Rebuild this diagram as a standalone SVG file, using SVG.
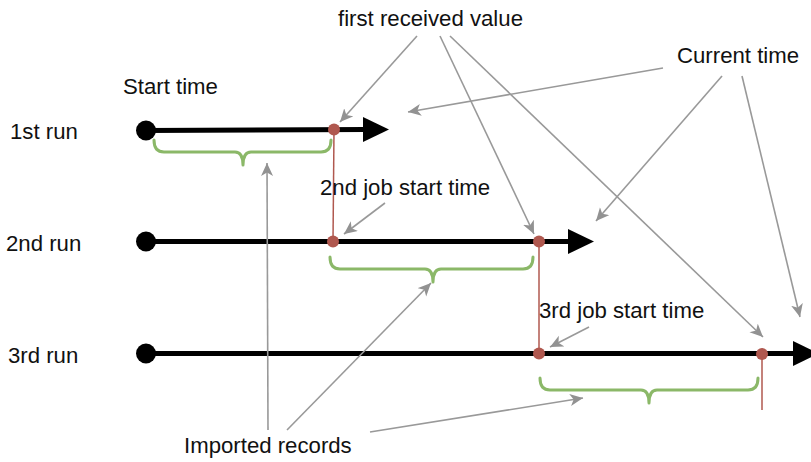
<svg xmlns="http://www.w3.org/2000/svg" width="811" height="462" viewBox="0 0 811 462">
  <style>
    text { font-family: "Liberation Sans", Arial, Helvetica, sans-serif; font-size: 22.2px; fill: #111; }
    .axis { stroke: #000; stroke-width: 5; fill: none; }
    .head { fill: #000; }
    .start { fill: #000; }
    .mark { fill: #b0584f; }
    .tick { stroke: #b0584f; stroke-width: 1.5; fill: none; }
    .brace { stroke: #8bb868; stroke-width: 3; fill: none; stroke-linecap: round; stroke-linejoin: round; }
    .ptr { stroke: #999; stroke-width: 1.6; fill: none; marker-end: url(#tip); }
  </style>
  <defs>
    <marker id="tip" markerUnits="userSpaceOnUse" markerWidth="16" markerHeight="14" refX="13" refY="6" orient="auto">
      <path d="M0,0 L13,6 L0,12 L3.5,6 z" fill="#929292"/>
    </marker>
  </defs>

  <rect width="811" height="462" fill="#fff"/>

  <!-- row labels -->
  <g id="label-run1"><text x="10" y="139">1st run</text></g>
  <g id="label-run2"><text x="6" y="251">2nd run</text></g>
  <g id="label-run3"><text x="8" y="363">3rd run</text></g>

  <!-- 1st run timeline -->
  <g id="run1">
    <line class="axis" x1="146" y1="130.5" x2="366" y2="129.5"/>
    <circle class="start" cx="146" cy="130.5" r="10"/>
    <polygon class="head" points="363,117 389,129.5 363,142"/>
    <path class="brace" d="M154,140 Q154,152 164,152 L235,152 Q243,152 243,165 Q243,152 251,152 L321,152 Q331,152 331,140"/>
  </g>

  <!-- 2nd run timeline -->
  <g id="run2">
    <line class="axis" x1="146" y1="241.5" x2="570" y2="241.5"/>
    <circle class="start" cx="146" cy="241.5" r="10"/>
    <polygon class="head" points="568,229 594,241.5 568,254"/>
    <path class="brace" d="M330,257 Q330,269 340,269 L425,269 Q433,269 433,282 Q433,269 441,269 L523,269 Q533,269 533,257"/>
  </g>

  <!-- 3rd run timeline -->
  <g id="run3">
    <line class="axis" x1="146" y1="353.5" x2="796" y2="353.5"/>
    <circle class="start" cx="146" cy="353.5" r="10"/>
    <polygon class="head" points="793,341 819,353.5 793,366"/>
    <path class="brace" d="M540,378 Q540,390 550,390 L641,390 Q649,390 649,403 Q649,390 657,390 L748,390 Q758,390 758,378"/>
  </g>

  <!-- job start links and received-value marks -->
  <g id="marks">
    <line class="tick" x1="334" y1="129.5" x2="333" y2="241.5"/>
    <line class="tick" x1="539" y1="241.5" x2="539" y2="353.5"/>
    <line class="tick" x1="762" y1="353.5" x2="762" y2="410"/>
    <circle class="mark" cx="334" cy="129.5" r="6"/>
    <circle class="mark" cx="333" cy="241.5" r="6"/>
    <circle class="mark" cx="539" cy="241.5" r="6"/>
    <circle class="mark" cx="539" cy="353.5" r="6"/>
    <circle class="mark" cx="762" cy="354" r="6"/>
  </g>

  <!-- annotations -->
  <g id="label-start"><text x="123" y="94">Start time</text></g>
  <g id="label-first"><text x="338" y="26">first received value</text></g>
  <g id="label-current"><text x="677" y="63">Current time</text></g>
  <g id="label-job2"><text x="320" y="195">2nd job start time</text></g>
  <g id="label-job3"><text x="539" y="318">3rd job start time</text></g>
  <g id="label-imported"><text x="184" y="453">Imported records</text></g>

  <!-- pointers -->
  <g id="connectors">
    <line class="ptr" x1="417" y1="36" x2="340" y2="122"/>
    <line class="ptr" x1="440" y1="36" x2="534" y2="234"/>
    <line class="ptr" x1="450" y1="36" x2="763" y2="337"/>
    <line class="ptr" x1="663" y1="68" x2="408" y2="112"/>
    <line class="ptr" x1="722" y1="76" x2="596" y2="221"/>
    <line class="ptr" x1="742" y1="76" x2="800" y2="317"/>
    <line class="ptr" x1="385" y1="203" x2="344" y2="234"/>
    <line class="ptr" x1="589" y1="327" x2="550" y2="347"/>
    <line class="ptr" x1="268" y1="430" x2="267" y2="163"/>
    <line class="ptr" x1="287" y1="430" x2="431" y2="283"/>
    <line class="ptr" x1="370" y1="432" x2="583" y2="398"/>
  </g>
</svg>
